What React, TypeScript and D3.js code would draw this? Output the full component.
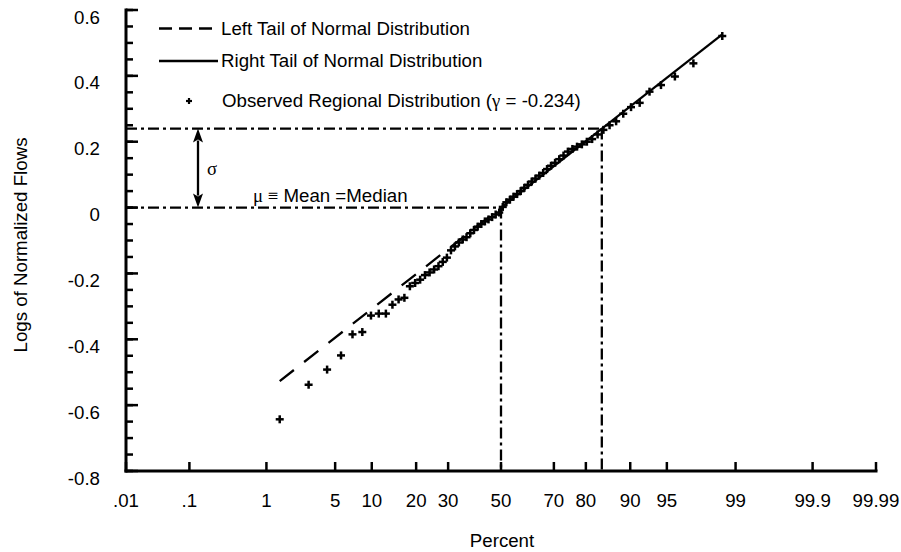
import React from "react";
import * as d3 from "d3";

// ---- data ----
const xTickPercents = [0.01, 0.1, 1, 5, 10, 20, 30, 50, 70, 80, 90, 95, 99, 99.9, 99.99];
const xTickLabels = [".01", ".1", "1", "5", "10", "20", "30", "50", "70", "80", "90", "95", "99", "99.9", "99.99"];
const yMajorTicks = [0.6, 0.4, 0.2, 0, -0.2, -0.4, -0.6, -0.8];
const yTickLabels = ["0.6", "0.4", "0.2", "0", "-0.2", "-0.4", "-0.6", "-0.8"];

const obsPercent = [
  1.41, 2.82, 4.23, 5.63, 7.04, 8.45, 9.86, 11.27, 12.68, 14.08,
  15.49, 16.9, 18.31, 19.72, 21.13, 22.54, 23.94, 25.35, 26.76, 28.17,
  29.58, 30.99, 32.39, 33.8, 35.21, 36.62, 38.03, 39.44, 40.85, 42.25,
  43.66, 45.07, 46.48, 47.89, 49.3, 50.7, 52.11, 53.52, 54.93, 56.34,
  57.75, 59.15, 60.56, 61.97, 63.38, 64.79, 66.2, 67.61, 69.01, 70.42,
  71.83, 73.24, 74.65, 76.06, 77.46, 78.87, 80.28, 81.69, 83.1, 84.51,
  85.92, 87.32, 88.73, 90.14, 91.55, 92.96, 94.37, 95.77, 97.18, 98.59,
];
const obsValue = [
  -0.643, -0.538, -0.492, -0.449, -0.385, -0.378, -0.328, -0.322, -0.322, -0.295,
  -0.279, -0.274, -0.239, -0.229, -0.219, -0.205, -0.197, -0.188, -0.178, -0.165,
  -0.152, -0.13, -0.118, -0.106, -0.097, -0.09, -0.078, -0.068, -0.058, -0.05,
  -0.042, -0.036, -0.029, -0.021, -0.015, 0.002, 0.016, 0.024, 0.033, 0.041,
  0.05, 0.06, 0.069, 0.079, 0.088, 0.097, 0.105, 0.117, 0.127, 0.136,
  0.147, 0.158, 0.17, 0.178, 0.185, 0.192, 0.2, 0.208, 0.222, 0.236,
  0.25, 0.262, 0.285, 0.305, 0.318, 0.352, 0.372, 0.398, 0.438, 0.521,
];

const leftTailPercent = [1.41, 50];
const leftTailValue = [-0.527, 0];
const rightTailPercent = [50, 98.59];
const rightTailValue = [0, 0.526];

const meanPercent = 50;
const meanValue = 0;
const sigmaPercent = 84.13;
const sigmaValue = 0.24;

// ---- helpers ----
function probit(p: number): number {
  const a = [-3.969683028665376e1, 2.209460984245205e2, -2.759285104469687e2, 1.38357751867269e2, -3.066479806614716e1, 2.506628277459239];
  const b = [-5.447609879822406e1, 1.615858368580409e2, -1.556989798598866e2, 6.680131188771972e1, -1.328068155288572e1];
  const c = [-7.784894002430293e-3, -3.223964580411365e-1, -2.400758277161838, -2.549732539343734, 4.374664141464968, 2.938163982698783];
  const d = [7.784695709041462e-3, 3.224671290700398e-1, 2.445134137142996, 3.754408661907416];
  const pl = 0.02425;
  if (p < pl) {
    const q = Math.sqrt(-2 * Math.log(p));
    return (((((c[0] * q + c[1]) * q + c[2]) * q + c[3]) * q + c[4]) * q + c[5]) / ((((d[0] * q + d[1]) * q + d[2]) * q + d[3]) * q + 1);
  }
  if (p <= 1 - pl) {
    const q = p - 0.5;
    const r = q * q;
    return ((((((a[0] * r + a[1]) * r + a[2]) * r + a[3]) * r + a[4]) * r + a[5]) * q) / (((((b[0] * r + b[1]) * r + b[2]) * r + b[3]) * r + b[4]) * r + 1);
  }
  const q = Math.sqrt(-2 * Math.log(1 - p));
  return -(((((c[0] * q + c[1]) * q + c[2]) * q + c[3]) * q + c[4]) * q + c[5]) / ((((d[0] * q + d[1]) * q + d[2]) * q + d[3]) * q + 1);
}

const W = 901;
const H = 552;
const left = 126;
const right = 876;
const top = 10;
const bottom = 471;

const zScale = d3.scaleLinear().domain([probit(0.0001), probit(0.9999)]).range([left, right]);
const x = (pct: number) => zScale(probit(pct / 100));
const y = d3.scaleLinear().domain([-0.8, 0.6]).range([bottom, top]);

const SANS = "Arial, 'Liberation Sans', sans-serif";
const SERIF = "'Times New Roman', 'Liberation Serif', serif";
const FS = 18.7;

const minorTicks = d3.range(-0.8, 0.6001, 0.05);

const line = d3
  .line<[number, number]>()
  .x((d) => x(d[0]))
  .y((d) => y(d[1]));

const leftTail = line(leftTailPercent.map((p, i) => [p, leftTailValue[i]] as [number, number])) || "";
const rightTail = line(rightTailPercent.map((p, i) => [p, rightTailValue[i]] as [number, number])) || "";

function Plus({ cx, cy, s = 4, w = 2.5 }: { cx: number; cy: number; s?: number; w?: number }) {
  return (
    <g stroke="#000" strokeWidth={w}>
      <line x1={cx - s} x2={cx + s} y1={cy} y2={cy} />
      <line x1={cx} x2={cx} y1={cy - s} y2={cy + s} />
    </g>
  );
}

export default function App() {
  const dashDot = "11,4,3,4";
  const arrowX = 198;
  const yS = y(sigmaValue);
  const yM = y(meanValue);
  const head = 14;
  const hw = 5;
  return (
    <svg
      width={W}
      height={H}
      viewBox={`0 0 ${W} ${H}`}
      style={{ position: "absolute", left: 0, top: 0, background: "#fff" }}
      fontFamily={SANS}
    >
      <rect x={0} y={0} width={W} height={H} fill="#fff" />

      {/* reference dash-dot lines */}
      <g stroke="#000" strokeWidth={2.3} strokeDasharray={dashDot} fill="none">
        <line x1={left} x2={x(sigmaPercent)} y1={yS} y2={yS} />
        <line x1={x(sigmaPercent)} x2={x(sigmaPercent)} y1={yS} y2={bottom} />
        <line x1={left} x2={x(meanPercent)} y1={yM} y2={yM} />
        <line x1={x(meanPercent)} x2={x(meanPercent)} y1={yM} y2={bottom} />
      </g>

      {/* sigma arrow */}
      <line x1={arrowX} x2={arrowX} y1={yS + head - 2} y2={yM - head + 2} stroke="#000" strokeWidth={2.3} />
      <path d={`M${arrowX},${yS} L${arrowX - hw},${yS + head} L${arrowX},${yS + head - 3} L${arrowX + hw},${yS + head} Z`} fill="#000" />
      <path d={`M${arrowX},${yM} L${arrowX - hw},${yM - head} L${arrowX},${yM - head + 3} L${arrowX + hw},${yM - head} Z`} fill="#000" />
      <text x={207} y={175} fontFamily={SERIF} fontSize={FS}>σ</text>

      <text x={253} y={201.5} fontSize={FS}>
        <tspan fontFamily={SERIF}>μ ≡</tspan>
        <tspan> Mean =Median</tspan>
      </text>

      {/* theoretical lines */}
      <path d={leftTail} stroke="#000" strokeWidth={2.3} fill="none" strokeDasharray="18,13" />
      <path d={rightTail} stroke="#000" strokeWidth={2.3} fill="none" />

      {/* observed points */}
      {obsPercent.map((p, i) => (
        <Plus key={i} cx={x(p)} cy={y(obsValue[i])} />
      ))}

      {/* axes */}
      <g stroke="#000" strokeWidth={3} fill="none">
        <line x1={left} x2={left} y1={top - 1.5} y2={bottom + 1.5} />
        <line x1={left - 1.5} x2={right + 1.5} y1={bottom} y2={bottom} />
      </g>
      <g stroke="#000" strokeWidth={2.5}>
        {minorTicks.map((v, i) => (
          <line key={"m" + i} x1={left} x2={left + 7} y1={y(v)} y2={y(v)} />
        ))}
        {yMajorTicks.map((v, i) => (
          <line key={"M" + i} x1={left} x2={left + 12} y1={y(v)} y2={y(v)} />
        ))}
        {xTickPercents.map((p, i) => (
          <line key={"x" + i} x1={x(p)} x2={x(p)} y1={bottom} y2={bottom - 9} />
        ))}
      </g>
      {yMajorTicks.map((v, i) => (
        <text key={"yl" + i} x={100} y={y(v) + 13.5} textAnchor="end" fontSize={FS}>
          {yTickLabels[i]}
        </text>
      ))}
      {xTickPercents.map((p, i) => (
        <text key={"xl" + i} x={x(p)} y={506.5} textAnchor="middle" fontSize={FS}>
          {xTickLabels[i]}
        </text>
      ))}

      {/* axis titles */}
      <text x={502} y={547} textAnchor="middle" fontSize={FS}>Percent</text>
      <text transform="translate(27,245) rotate(-90)" textAnchor="middle" fontSize={FS}>
        Logs of Normalized Flows
      </text>

      {/* legend */}
      <line x1={159} x2={218} y1={28.5} y2={28.5} stroke="#000" strokeWidth={2.3} strokeDasharray="13,7" />
      <text x={221} y={35} fontSize={FS}>Left Tail of Normal Distribution</text>
      <line x1={159} x2={218} y1={61} y2={61} stroke="#000" strokeWidth={2.3} />
      <text x={221} y={67} fontSize={FS}>Right Tail of Normal Distribution</text>
      <Plus cx={189} cy={101} s={3} w={2.2} />
      <text x={222} y={107} fontSize={FS}>
        Observed Regional Distribution (<tspan fontFamily={SERIF}>γ</tspan> = -0.234)
      </text>
    </svg>
  );
}
